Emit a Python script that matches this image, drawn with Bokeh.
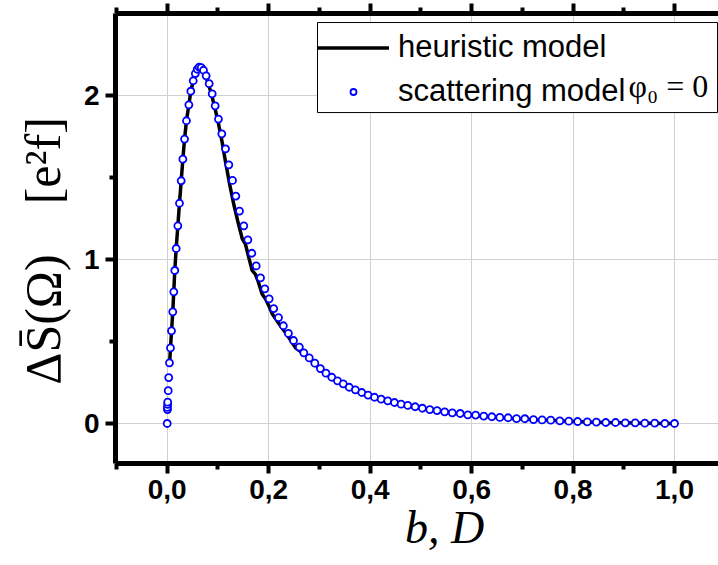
from bokeh.plotting import figure
from bokeh.models import (LinearAxis, FixedTicker, CustomJSTickFormatter, Legend,
                          LegendItem, Label, Range1d, BoxAnnotation)
from bokeh.embed import file_html
from bokeh.resources import INLINE

# ---- data -------------------------------------------------------------
# heuristic model (black line)
hx = [0.005, 0.0065, 0.011, 0.015, 0.0177, 0.021, 0.0242, 0.0276, 0.0309, 0.0342,
      0.038, 0.0427, 0.0466, 0.0513, 0.0555, 0.0592, 0.063, 0.067, 0.0716, 0.0768,
      0.0828, 0.0887, 0.0946, 0.101, 0.108, 0.115, 0.123, 0.131, 0.139, 0.148,
      0.154, 0.161, 0.1675, 0.174, 0.18, 0.187, 0.1937, 0.2, 0.207, 0.22,
      0.2365, 0.253, 0.2693, 0.28, 0.291, 0.302, 0.313, 0.3245, 0.347, 0.371,
      0.396, 0.4218, 0.448, 0.4743, 0.503, 0.532, 0.562, 0.5926, 0.624, 0.6556,
      0.6886, 0.722, 0.756, 0.7916, 0.828, 0.8646, 0.903, 0.9415, 0.981, 1.0]
hy = [0.38, 0.461, 0.681, 0.933, 1.067, 1.205, 1.343, 1.48, 1.612, 1.734,
      1.846, 1.943, 2.026, 2.09, 2.134, 2.16, 2.173, 2.17, 2.15, 2.11,
      2.055, 1.99, 1.915, 1.83, 1.72, 1.595, 1.46, 1.34, 1.235, 1.126,
      1.096, 1.01, 0.933, 0.909, 0.86, 0.79, 0.76, 0.72, 0.669, 0.61,
      0.54, 0.462, 0.425, 0.395, 0.362, 0.33, 0.302, 0.278, 0.238, 0.202,
      0.17, 0.146, 0.126, 0.108, 0.091, 0.077, 0.064, 0.052, 0.044, 0.036,
      0.029, 0.023, 0.019, 0.013, 0.009, 0.006, 0.004, 0.002, 0.0, 0.0]

# scattering model (blue open circles)
sx = [0.0, 0.0005, 0.0005, 0.001, 0.001, 0.002, 0.003, 0.0045, 0.0065, 0.0085,
      0.011, 0.013, 0.015, 0.0177, 0.021, 0.0242, 0.0276, 0.0309, 0.0342, 0.038,
      0.0427, 0.0466, 0.0513, 0.0555, 0.0592, 0.063, 0.067, 0.0716, 0.0768, 0.0828,
      0.0887, 0.0946, 0.101, 0.1077, 0.115, 0.1215, 0.1287, 0.1353, 0.1425, 0.151,
      0.159, 0.1668, 0.1754, 0.184, 0.1924, 0.201, 0.21, 0.2194, 0.229, 0.239,
      0.249, 0.2605, 0.2693, 0.28, 0.291, 0.302, 0.313, 0.3245, 0.3357, 0.347,
      0.3588, 0.371, 0.3836, 0.396, 0.4086, 0.4218, 0.4348, 0.448, 0.461, 0.4743,
      0.4888, 0.503, 0.5177, 0.532, 0.547, 0.562, 0.5776, 0.5926, 0.608, 0.624,
      0.64, 0.6556, 0.672, 0.6886, 0.705, 0.722, 0.739, 0.756, 0.774, 0.7916,
      0.809, 0.828, 0.846, 0.8646, 0.8837, 0.903, 0.9225, 0.9415, 0.961, 0.981, 1.0]
sy = [0.0, 0.085, 0.098, 0.116, 0.13, 0.2, 0.28, 0.37, 0.461, 0.565,
      0.681, 0.803, 0.933, 1.067, 1.205, 1.343, 1.48, 1.612, 1.734, 1.846,
      1.943, 2.026, 2.09, 2.134, 2.16, 2.173, 2.17, 2.154, 2.12, 2.072,
      2.01, 1.937, 1.856, 1.766, 1.675, 1.577, 1.482, 1.387, 1.295, 1.205,
      1.12, 1.038, 0.961, 0.888, 0.821, 0.76, 0.701, 0.646, 0.596, 0.549,
      0.506, 0.466, 0.431, 0.40, 0.368, 0.335, 0.307, 0.282, 0.26, 0.242,
      0.221, 0.205, 0.189, 0.173, 0.16, 0.148, 0.138, 0.128, 0.118, 0.11,
      0.102, 0.093, 0.085, 0.079, 0.071, 0.065, 0.061, 0.053, 0.051, 0.045,
      0.041, 0.037, 0.035, 0.03, 0.029, 0.024, 0.022, 0.02, 0.016, 0.014,
      0.012, 0.01, 0.008, 0.006, 0.006, 0.004, 0.004, 0.002, 0.002, 0.0, 0.0]

x_major = [0.0, 0.2, 0.4, 0.6, 0.8, 1.0]
x_minor = [-0.1, 0.1, 0.3, 0.5, 0.7, 0.9, 1.1]
y_major = [0, 1, 2]
y_minor = [0.5, 1.5]

series_labels = ["heuristic model", "scattering model"]
legend_math = "φ₀ = 0"
x_title = "\u2003\u2009b, D"
y_title = "ΔS̄(Ω)\u2003[e²f]\u2002"

# ---- figure -------------------------------------------------------------
p = figure(width=718, height=565, x_range=Range1d(-0.1019, 1.0867),
           y_range=Range1d(-0.244, 2.5), output_backend="svg",
           toolbar_location=None, min_border_left=115, min_border_right=0,
           min_border_top=13, min_border_bottom=102)
p.outline_line_color = None
p.background_fill_color = "white"
p.border_fill_color = "white"

fmt = CustomJSTickFormatter(code="return tick.toFixed(1).replace('.', ',');")

def style_axis(ax, tick_out=10, minor_out=6):
    ax.axis_line_width = 5
    ax.axis_line_color = "black"
    ax.major_tick_in = 0
    ax.minor_tick_in = 0
    ax.major_tick_out = tick_out
    ax.minor_tick_out = minor_out
    ax.major_tick_line_width = 4
    ax.minor_tick_line_width = 4
    ax.major_tick_line_color = "black"
    ax.minor_tick_line_color = "black"
    ax.major_label_text_font = "Liberation Sans"
    ax.major_label_text_font_style = "bold"
    ax.major_label_text_font_size = "28px"
    ax.major_label_text_color = "black"

xa = p.xaxis[0]
xa.ticker = FixedTicker(ticks=x_major, minor_ticks=x_minor)
xa.formatter = fmt
style_axis(xa)
xa.major_label_standoff = 6
xa.axis_label = x_title
xa.axis_label_text_font = "Liberation Serif"
xa.axis_label_text_font_style = "italic"
xa.axis_label_text_font_size = "46px"
xa.axis_label_standoff = 0
xa.axis_label_text_color = "black"

ya = p.yaxis[0]
ya.ticker = FixedTicker(ticks=y_major, minor_ticks=y_minor)
style_axis(ya)
ya.major_label_standoff = 6
ya.axis_label = y_title
ya.axis_label_text_font = "Liberation Serif"
ya.axis_label_text_font_style = "normal"
ya.axis_label_text_font_size = "50px"
ya.axis_label_standoff = 10
ya.axis_label_text_color = "black"

top = LinearAxis(ticker=FixedTicker(ticks=x_major, minor_ticks=x_minor),
                 formatter=CustomJSTickFormatter(code="return '';"))
style_axis(top, tick_out=10, minor_out=6)
top.major_label_text_font_size = "0px"
top.major_label_standoff = 0
p.add_layout(top, "above")

p.xgrid.ticker = FixedTicker(ticks=x_major)
p.ygrid.ticker = FixedTicker(ticks=y_major)
for g in (p.xgrid[0], p.ygrid[0]):
    g.grid_line_color = "#d0d0d0"
    g.grid_line_width = 1

line_r = p.line(hx, hy, line_color="black", line_width=3.5)
sc_r = p.scatter(sx, sy, marker="circle", size=7, line_color="#0000ff",
                 fill_color="white", line_width=1.8)

# legend frame (white box with black border) drawn underneath a transparent legend
p.add_layout(BoxAnnotation(left=0.2963, right=1.0848, top=2.445, bottom=1.896,
                           fill_color="white", fill_alpha=1.0,
                           line_color="black", line_width=1, line_alpha=1.0))

legend = Legend(items=[LegendItem(label=series_labels[0], renderers=[line_r]),
                       LegendItem(label=series_labels[1], renderers=[sc_r])],
                location=(202, 354), orientation="vertical")
legend.label_text_font = "Liberation Sans"
legend.label_text_font_size = "31px"
legend.label_text_color = "black"
legend.glyph_width = 72
legend.glyph_height = 15
legend.label_standoff = 9
legend.label_width = 309
legend.label_height = 35
legend.padding = 5
legend.spacing = 8
legend.margin = 0
legend.border_line_color = None
legend.background_fill_alpha = 0.0
p.add_layout(legend)

p.add_layout(Label(x=0.9093, y=2.06, text=legend_math, text_font="Liberation Serif",
                   text_font_size="32px", text_baseline="middle",
                   text_align="left", text_color="black"))

open("out.html", "w").write(file_html(p, INLINE))
